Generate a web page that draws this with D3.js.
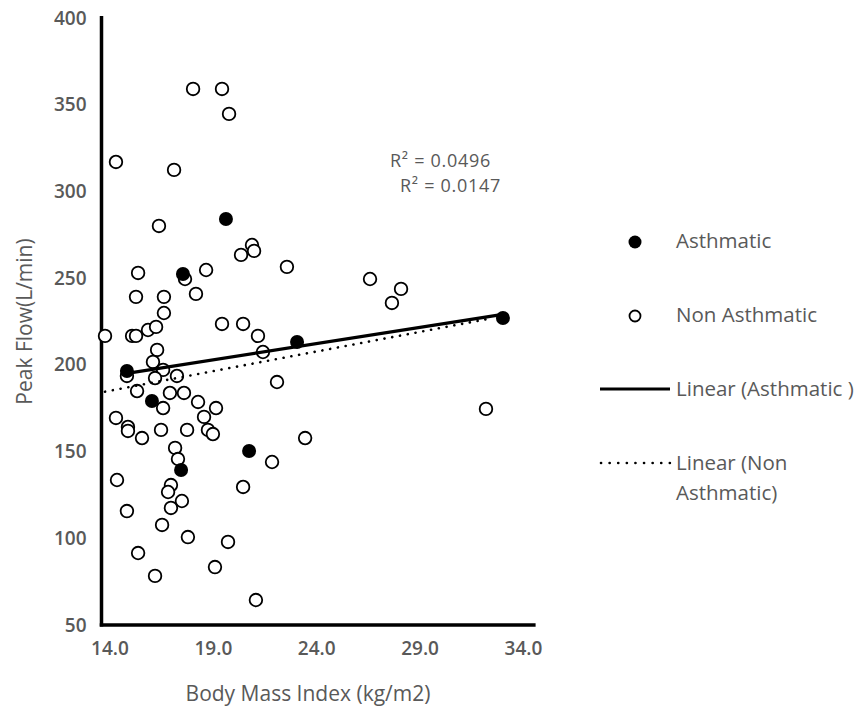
<!DOCTYPE html>
<html>
<head>
<meta charset="utf-8">
<script src="https://cdn.jsdelivr.net/npm/d3@7"></script>
<style>
  body { margin: 0; background: #fff; }
  text { font-family: "Open Sans", "Noto Sans", sans-serif; fill: #595959; }
</style>
</head>
<body>
<div id="chart"></div>
<script>
// BMI (x) and peak flow (y)
const asthmaticBmi  = [20.02, 17.94, 15.23, 16.44, 17.85, 21.14, 23.46, 33.42];
const asthmaticFlow = [284.1, 252.4, 196.5, 179.2, 139.4, 150.3, 213.2, 227.0];

const nonAsthmaticBmi = [
    14.70, 17.51, 18.43, 19.83, 20.17, 16.78, 21.28, 21.38, 20.75, 15.77,
    18.04, 19.06, 15.67, 17.02, 18.57, 17.02, 19.83, 20.85, 14.17, 15.48,
    15.67, 16.25, 16.64, 21.57, 16.69, 16.49, 15.23, 16.98, 16.59, 17.65,
    15.72, 16.98, 17.31, 17.99, 18.67, 19.54, 18.96, 14.70, 15.28, 15.28,
    15.96, 16.88, 18.14, 19.15, 19.39, 17.56, 17.70, 14.75, 17.36, 17.22,
    20.85, 17.89, 17.36, 15.23, 16.93, 18.18, 20.12, 15.77, 19.49, 16.59,
    21.47, 22.97, 26.99, 28.49, 28.05, 21.81, 22.49, 32.60, 23.85, 22.25
];
const nonAsthmaticFlow = [
    317.0, 312.4, 359.1, 359.1, 344.7, 280.1, 269.1, 265.7, 263.4, 253.0,
    249.5, 254.7, 239.2, 239.2, 240.9, 229.9, 223.6, 223.6, 216.7, 216.7,
    216.7, 220.1, 221.9, 216.7, 208.6, 201.7, 193.6, 197.1, 192.4, 193.6,
    184.9, 175.1, 183.8, 183.8, 178.6, 175.1, 170.0, 169.4, 164.2, 161.9,
    157.8, 162.5, 162.5, 162.5, 160.1, 152.1, 145.7, 133.6, 130.7, 126.7,
    129.6, 121.5, 117.5, 115.7, 107.7, 100.7, 97.9, 91.5, 83.4, 78.3,
    64.4, 256.5, 249.5, 243.8, 235.7, 207.4, 190.1, 174.6, 157.8, 144.0
];

const xTicks = [14, 19, 24, 29, 34];
const yTicks = [50, 100, 150, 200, 250, 300, 350, 400];
const rSquaredLabels = ["R\u00B2 = 0.0496", "R\u00B2 = 0.0147"];
const legendLabels = ["Asthmatic", "Non Asthmatic", "Linear (Asthmatic )", ["Linear (Non", "Asthmatic)"]];

const width = 861, height = 716;

const svg = d3.select("#chart")
    .append("svg")
    .attr("width", width)
    .attr("height", height);

// scales
const x = d3.scaleLinear().domain([14, 35]).range([101.5, 535.6]);
const y = d3.scaleLinear().domain([50, 400]).range([625, 18]);

// axis labels (no tick marks); excel draws the x labels a little right of the tick
const xAxis = svg.append("g")
    .attr("transform", `translate(8,${y(50) + 13})`)
    .call(d3.axisBottom(x).tickValues(xTicks).tickFormat(d3.format(".1f")).tickSize(0));
xAxis.select(".domain").remove();
xAxis.selectAll("text")
    .style("font-size", "19px")
    .style("font-weight", "600")
    .attr("fill", "#595959");

const yAxis = svg.append("g")
    .attr("transform", `translate(${x(14) - 12},0)`)
    .call(d3.axisLeft(y).tickValues(yTicks).tickFormat(d3.format("d")).tickSize(0));
yAxis.select(".domain").remove();
yAxis.selectAll("text")
    .style("font-size", "19px")
    .style("font-weight", "600")
    .attr("fill", "#595959");

// axis lines
svg.append("line")
    .attr("x1", x(14)).attr("x2", x(14))
    .attr("y1", y(400) - 2).attr("y2", y(50) + 1.5)
    .attr("stroke", "#000")
    .attr("stroke-width", 3.5);
svg.append("line")
    .attr("x1", x(14) - 1.75).attr("x2", x(35))
    .attr("y1", y(50)).attr("y2", y(50))
    .attr("stroke", "#000")
    .attr("stroke-width", 3.5);

// axis titles
svg.append("text")
    .attr("x", 308)
    .attr("y", 701)
    .attr("text-anchor", "middle")
    .style("font-size", "21px")
    .text("Body Mass Index (kg/m2)");

svg.append("text")
    .attr("transform", `translate(32,${(y(50) + y(400)) / 2}) rotate(-90)`)
    .attr("text-anchor", "middle")
    .style("font-size", "21px")
    .text("Peak Flow(L/min)");

// least squares fit
function linearFit(xs, ys) {
    const n = xs.length;
    const mx = d3.mean(xs), my = d3.mean(ys);
    let sxy = 0, sxx = 0;
    for (let i = 0; i < n; i++) {
        sxy += (xs[i] - mx) * (ys[i] - my);
        sxx += (xs[i] - mx) * (xs[i] - mx);
    }
    const slope = sxy / sxx;
    return { slope, intercept: my - slope * mx };
}

const nonAsthmatic = nonAsthmaticBmi.map((b, i) => ({ bmi: b, flow: nonAsthmaticFlow[i] }));
const asthmatic = asthmaticBmi.map((b, i) => ({ bmi: b, flow: asthmaticFlow[i] }));

// open circles
svg.append("g")
    .selectAll("circle")
    .data(nonAsthmatic)
    .join("circle")
    .attr("cx", d => x(d.bmi))
    .attr("cy", d => y(d.flow))
    .attr("r", 6.3)
    .attr("fill", "#fff")
    .attr("stroke", "#000")
    .attr("stroke-width", 1.8);

// filled circles
svg.append("g")
    .selectAll("circle")
    .data(asthmatic)
    .join("circle")
    .attr("cx", d => x(d.bmi))
    .attr("cy", d => y(d.flow))
    .attr("r", 7)
    .attr("fill", "#000");

// trendlines
function drawTrend(xs, ys, style) {
    const fit = linearFit(xs, ys);
    const x0 = d3.min(xs), x1 = d3.max(xs);
    const line = svg.append("line")
        .attr("x1", x(x0)).attr("y1", y(fit.slope * x0 + fit.intercept))
        .attr("x2", x(x1)).attr("y2", y(fit.slope * x1 + fit.intercept))
        .attr("stroke", "#000");
    style(line);
}

drawTrend(nonAsthmaticBmi, nonAsthmaticFlow, l => l
    .attr("stroke-width", 2.6)
    .attr("stroke-linecap", "round")
    .attr("stroke-dasharray", "0.1,7.8"));
drawTrend(asthmaticBmi, asthmaticFlow, l => l
    .attr("stroke-width", 3.2));

// R squared labels
svg.append("text")
    .attr("x", 390).attr("y", 167)
    .style("font-size", "18px")
    .style("letter-spacing", "0.7px")
    .text(rSquaredLabels[0]);
svg.append("text")
    .attr("x", 400).attr("y", 192)
    .style("font-size", "18px")
    .style("letter-spacing", "0.7px")
    .text(rSquaredLabels[1]);

// legend
const legend = svg.append("g");
const legendTextX = 676;
const legendFont = "20.5px";

legend.append("circle")
    .attr("cx", 635).attr("cy", 242).attr("r", 6.5)
    .attr("fill", "#000");
legend.append("text")
    .attr("x", legendTextX).attr("y", 248)
    .style("font-size", legendFont)
    .text(legendLabels[0]);

legend.append("circle")
    .attr("cx", 635).attr("cy", 316).attr("r", 5.5)
    .attr("fill", "#fff").attr("stroke", "#000").attr("stroke-width", 1.8);
legend.append("text")
    .attr("x", legendTextX).attr("y", 322)
    .style("font-size", legendFont)
    .text(legendLabels[1]);

legend.append("line")
    .attr("x1", 600).attr("x2", 670)
    .attr("y1", 389).attr("y2", 389)
    .attr("stroke", "#000").attr("stroke-width", 3.2);
legend.append("text")
    .attr("x", legendTextX).attr("y", 396)
    .style("font-size", legendFont)
    .text(legendLabels[2]);

legend.append("line")
    .attr("x1", 601).attr("x2", 670)
    .attr("y1", 463).attr("y2", 463)
    .attr("stroke", "#000").attr("stroke-width", 2.6)
    .attr("stroke-linecap", "round")
    .attr("stroke-dasharray", "0.1,8.5");
const lastLabel = legend.append("text")
    .attr("x", legendTextX).attr("y", 470)
    .style("font-size", legendFont);
legendLabels[3].forEach((t, i) => {
    lastLabel.append("tspan")
        .attr("x", legendTextX)
        .attr("dy", i === 0 ? 0 : 30)
        .text(t);
});
</script>
</body>
</html>
